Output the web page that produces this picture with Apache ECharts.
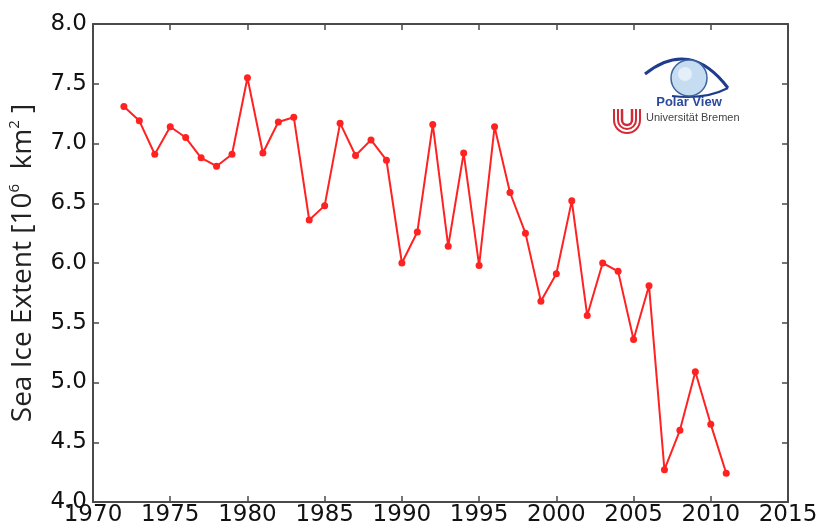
<!DOCTYPE html>
<html>
<head>
<meta charset="utf-8">
<script src="https://cdn.jsdelivr.net/npm/echarts@6/dist/echarts.min.js"></script>
<style>
html,body{margin:0;padding:0;background:#fff;}
#chart{width:823px;height:532px;}
</style>
</head>
<body>
<div id="chart"></div>
<script>
const years = [1972,1973,1974,1975,1976,1977,1978,1979,1980,1981,1982,1983,1984,1985,1986,1987,1988,1989,1990,1991,1992,1993,1994,1995,1996,1997,1998,1999,2000,2001,2002,2003,2004,2005,2006,2007,2008,2009,2010,2011];
const extent = [7.31,7.19,6.91,7.14,7.05,6.88,6.81,6.91,7.55,6.92,7.18,7.22,6.36,6.48,7.17,6.90,7.03,6.86,6.00,6.26,7.16,6.14,6.92,5.98,7.14,6.59,6.25,5.68,5.91,6.52,5.56,6.00,5.93,5.36,5.81,4.27,4.60,5.09,4.65,4.24];
const xRange = {min:1970, max:2015, interval:5};
const yRange = {min:4.0, max:8.0, interval:0.5};
const yTitle = 'Sea Ice Extent [10{sup|6}  km{sup|2} ]';

const axisColor = '#4a4a4a';
const seriesData = years.map((y,i)=>[y, extent[i]]);

const chart = echarts.init(document.getElementById('chart'), null, {renderer:'canvas'});
const tickFont = {fontFamily:'DejaVu Sans', fontSize:23, color:'#111'};
const red = '#d42a35';
function uShape(r, w){
  return [
    {type:'polyline', shape:{points:[[627-r,109],[627-r,120]]}, style:{stroke:red, lineWidth:w, fill:null}},
    {type:'polyline', shape:{points:[[627+r,109],[627+r,120]]}, style:{stroke:red, lineWidth:w, fill:null}},
    {type:'arc', shape:{cx:627, cy:120, r:r, startAngle:0, endAngle:Math.PI, clockwise:true}, style:{stroke:red, lineWidth:w, fill:null}}
  ];
}
chart.setOption({
  animation:false,
  backgroundColor:'#fff',
  grid:{left:93, right:35, top:24, bottom:30, containLabel:false, outerBoundsMode:'none'},
  xAxis:[{
    type:'value', min:xRange.min, max:xRange.max, interval:xRange.interval,
    position:'bottom',
    axisLine:{show:true, onZero:false, lineStyle:{color:axisColor, width:2}},
    axisTick:{show:true, inside:true, length:6, lineStyle:{color:axisColor, width:1.5}},
    axisLabel:Object.assign({margin:2, formatter:v=>String(v)}, tickFont),
    splitLine:{show:false}
  },{
    type:'value', min:xRange.min, max:xRange.max, interval:xRange.interval,
    position:'top',
    axisLine:{show:true, onZero:false, lineStyle:{color:axisColor, width:2}},
    axisTick:{show:true, inside:true, length:6, lineStyle:{color:axisColor, width:1.5}},
    axisLabel:{show:false},
    splitLine:{show:false}
  }],
  yAxis:[{
    type:'value', min:yRange.min, max:yRange.max, interval:yRange.interval,
    position:'left',
    axisLine:{show:true, onZero:false, lineStyle:{color:axisColor, width:2}},
    axisTick:{show:true, inside:true, length:6, lineStyle:{color:axisColor, width:1.5}},
    axisLabel:Object.assign({margin:6, formatter:v=>v.toFixed(1)}, tickFont),
    splitLine:{show:false},
    name:yTitle,
    nameLocation:'middle',
    nameRotate:90,
    nameGap:53,
    nameTextStyle:{
      fontFamily:'Open Sans', fontSize:28, color:'#222', lineHeight:32,
      rich:{sup:{fontFamily:'Open Sans', fontSize:15, color:'#222', verticalAlign:'top', lineHeight:32, padding:[0,0,12,0]}}
    }
  },{
    type:'value', min:yRange.min, max:yRange.max, interval:yRange.interval,
    position:'right',
    axisLine:{show:true, onZero:false, lineStyle:{color:axisColor, width:2}},
    axisTick:{show:true, inside:true, length:6, lineStyle:{color:axisColor, width:1.5}},
    axisLabel:{show:false},
    splitLine:{show:false}
  }],
  series:[{
    type:'line',
    xAxisIndex:0, yAxisIndex:0,
    data:seriesData,
    symbol:'circle', symbolSize:7,
    lineStyle:{color:'#ff2222', width:2},
    itemStyle:{color:'#ff2222'}
  }],
  graphic:[
    {type:'bezierCurve', shape:{x1:645, y1:74, cpx1:690, cpy1:38, x2:728, y2:88}, style:{fill:null, stroke:'#1f3c8c', lineWidth:3}},
    {type:'bezierCurve', shape:{x1:728, y1:88, cpx1:705, cpy1:100, x2:672, y2:96}, style:{fill:null, stroke:'#1f3c8c', lineWidth:2}},
    {type:'circle', shape:{cx:689, cy:78, r:18}, style:{fill:'#c6dcf0', stroke:'#3d62a0', lineWidth:1.5}},
    {type:'circle', shape:{cx:685, cy:74, r:7}, style:{fill:'#e4eff9', stroke:null}},
    {type:'text', style:{text:'Polar View', x:689, y:102, align:'center', verticalAlign:'middle', fill:'#2b4a9c', font:'bold 13px "Liberation Sans", Arial'}},
    {type:'text', style:{text:'Universität Bremen', x:646, y:118, align:'left', verticalAlign:'middle', fill:'#444', font:'11px "Liberation Sans", Arial'}}
  ].concat(uShape(13,2), uShape(9,2), uShape(5,2.5))
});
</script>
</body>
</html>
